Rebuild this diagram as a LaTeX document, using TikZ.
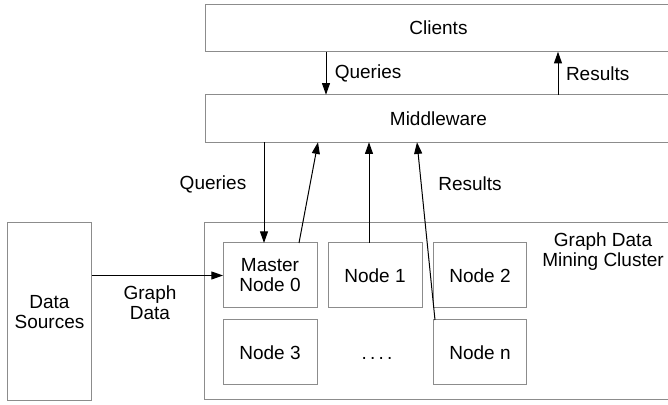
\documentclass[tikz,border=0pt]{standalone}
\usepackage{fontspec}
\setmainfont{Liberation Sans}
\usetikzlibrary{positioning, arrows.meta}
\definecolor{boxgray}{RGB}{140,140,140}
\tikzset{
	>={Triangle[length=7pt,width=4.8pt]},
	every node/.append style={
		font=\fontsize{11.4}{12}\selectfont,
	},
	labe/.append style={
		align = center,
		inner sep=0pt,
	},
	tier/.append style={
		draw=boxgray,
		line width=0.6pt,
		align = center,
		minimum width=280.2pt,
		minimum height=28.5pt,
		inner sep=0pt,
		outer sep=0pt,
	},
	worker/.append style={
		draw=boxgray,
		line width=0.6pt,
		align = center,
		minimum width=56.4pt,
		minimum height=39pt,
		inner sep=0pt,
		outer sep=0pt,
	},
	flow/.append style={
		->,
		line width=0.6pt,
	}
}

\begin{document}
\begin{tikzpicture}[x=0.6pt, y=-0.6pt]
\useasboundingbox (0,0) rectangle (668,405);
\node[tier] (clients) at (438.5,28) {Clients};
\node[tier] (middleware) at (438.5,118.5) {Middleware};
\node[tier, minimum width=51pt, minimum height=106.8pt] (sources) at (49.5,312) {Data\\Sources};
\node[tier, minimum width=280.8pt, minimum height=106.2pt] (cluster) at (438,311.5) {};
\node[labe] (clusterlabel) at (603,252) {Graph Data\\Mining Cluster};

\node[worker] (master) at (270,275.5) {Master\\Node 0};
\node[worker, right=6.6pt of master] (node1) {Node 1};
\node[worker, right=6.6pt of node1] (node2) {Node 2};
\node[worker, below=7.2pt of master] (node3) {Node 3};
\node[worker, below=7.2pt of node2] (noden) {Node n};
\node[worker, draw=none, below=7.2pt of node1, xshift=1.2pt] (dots) {\vphantom{N}.\,.\,.\,.};

\node[labe] (queries) at (213,184) {Queries};
\node[labe] (results) at (470,184) {Results};

\draw[flow] (sources.east |- master.west) -- (master.west)
	node[labe, midway, below=6pt, xshift=-4.5pt] {Graph\\Data};
\draw[flow] ([xshift=72.6pt]clients.south west) -- ([xshift=72.6pt]middleware.north west)
	node[labe, midway, right=5pt] {Queries};
\draw[flow] ([xshift=211.8pt]middleware.north west) -- ([xshift=211.8pt]clients.south west)
	node[labe, midway, right=4.5pt] {Results};

\coordinate (mq) at ([xshift=24.6pt]master.north west);
\coordinate (nr) at ([xshift=24.6pt]node1.north west);
\draw[flow] (mq |- middleware.south) -- (mq);
\draw[flow] ([xshift=45.6pt]master.north west) -- ([xshift=67.8pt]middleware.south west);
\draw[flow] (nr) -- (nr |- middleware.south);
\draw[flow] ([xshift=1.2pt]noden.north west) -- ([xshift=127.2pt]middleware.south west);
\end{tikzpicture}
\end{document}
